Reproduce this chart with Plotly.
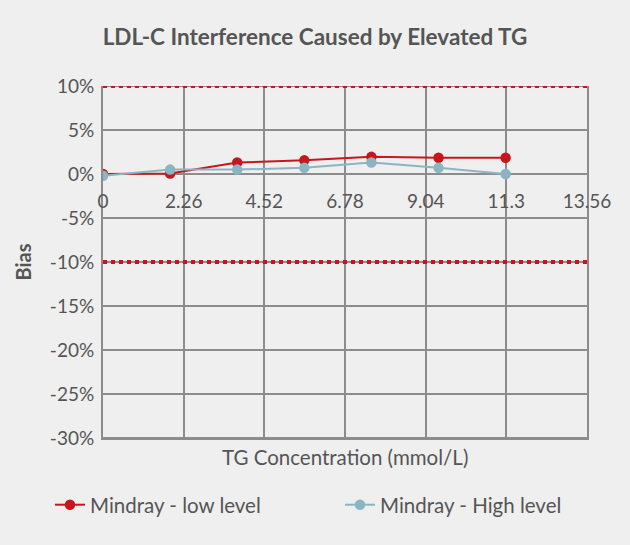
import plotly.graph_objects as go

# -----------------------------
# Data
# -----------------------------
tg_conc = [0, 1.88, 3.76, 5.64, 7.52, 9.4, 11.28]
bias_low = [0.0, 0.05, 1.3, 1.55, 1.95, 1.85, 1.85]
bias_high = [-0.2, 0.5, 0.5, 0.7, 1.3, 0.7, 0.0]

x_ticks = [0, 2.26, 4.52, 6.78, 9.04, 11.3, 13.56]
x_tick_labels = ["0", "2.26", "4.52", "6.78", "9.04", "11.3", "13.56"]
y_ticks = [10, 5, 0, -5, -10, -15, -20, -25, -30]
y_tick_labels = ["10%", "5%", "0%", "-5%", "-10%", "-15%", "-20%", "-25%", "-30%"]
limits = [10, -10]

RED = "#c8161e"
BLUE = "#8bb6c1"
GRID = "#8c8c8c"
TEXT = "#555555"
FONT = "Lato"

fig = go.Figure()

# horizontal grid lines as one plain line trace (one segment per y tick)
grid_x, grid_y = [], []
for v in y_ticks:
    grid_x += [x_ticks[0], x_ticks[-1], None]
    grid_y += [v, v, None]
fig.add_trace(go.Scatter(
    x=grid_x, y=grid_y, mode="lines", line=dict(color=GRID, width=2),
    showlegend=False, hoverinfo="skip",
))

fig.add_trace(go.Scatter(
    x=tg_conc, y=bias_low, mode="lines+markers", name="Mindray - low level",
    line=dict(color=RED, width=2), marker=dict(color=RED, size=10.5),
))
# high level sits on the overlay x axis (same scale) so it is drawn on top
fig.add_trace(go.Scatter(
    x=tg_conc, y=bias_high, mode="lines+markers", name="Mindray - High level",
    line=dict(color=BLUE, width=2), marker=dict(color=BLUE, size=10.5),
    xaxis="x2",
))

# dotted limit lines at +/-10%
for lim in limits:
    fig.add_shape(type="line", x0=x_ticks[0], x1=x_ticks[-1], y0=lim, y1=lim,
                  line=dict(color="#d0101c", width=4, dash="dot"), layer="above")

# plot height 352 px -> 44 px per 5% step
fig.update_layout(
    width=630, height=545,
    paper_bgcolor="#efefef", plot_bgcolor="#efefef",
    margin=dict(l=103, r=43, t=86, b=107),
    font=dict(family=FONT, color=TEXT, size=19),
    title=dict(text="<b>LDL-C Interference Caused by Elevated TG</b>",
               x=0.5, xanchor="center", y=1 - 37 / 545, yanchor="middle",
               font=dict(size=22.5, color=TEXT)),
    xaxis=dict(range=[0, 13.56], tickvals=x_ticks, showticklabels=False,
               showgrid=True, gridcolor=GRID, gridwidth=2,
               showline=True, linecolor=GRID, linewidth=2,
               zeroline=False, ticks="", automargin=False),
    # tick labels sit just under the 0% line
    xaxis2=dict(range=[0, 13.56], matches="x", overlaying="x", side="bottom",
                anchor="free", position=0.75, tickvals=x_ticks, ticktext=x_tick_labels,
                showgrid=False, showline=False, zeroline=False, ticks="",
                automargin=False, ticklabelstandoff=14,
                tickfont=dict(size=19, color=TEXT)),
    yaxis=dict(range=[-30, 10], tickvals=y_ticks, ticktext=y_tick_labels,
               showgrid=True, gridcolor=GRID, gridwidth=2,
               zeroline=True, zerolinecolor=GRID, zerolinewidth=2,
               showline=True, linecolor=GRID, linewidth=2, mirror=True,
               ticks="outside", ticklen=3, tickcolor="rgba(0,0,0,0)", automargin=False,
               title=dict(text="<b>Bias</b>", font=dict(size=20, color=TEXT), standoff=13),
               tickfont=dict(size=19, color=TEXT)),
    legend=dict(orientation="h", x=-0.107, xanchor="left", y=-0.19, yanchor="middle",
                font=dict(size=20.5, color=TEXT), bgcolor="rgba(0,0,0,0)",
                entrywidth=245, entrywidthmode="pixels"),
    annotations=[dict(text="TG Concentration (mmol/L)", xref="paper", yref="paper",
                      x=0.5, y=-0.054, xanchor="center", yanchor="middle",
                      showarrow=False, font=dict(size=20.5, color=TEXT))],
)

fig.write_html("out.html", config={"displayModeBar": False},
               post_script="document.body.style.margin = '0';")
